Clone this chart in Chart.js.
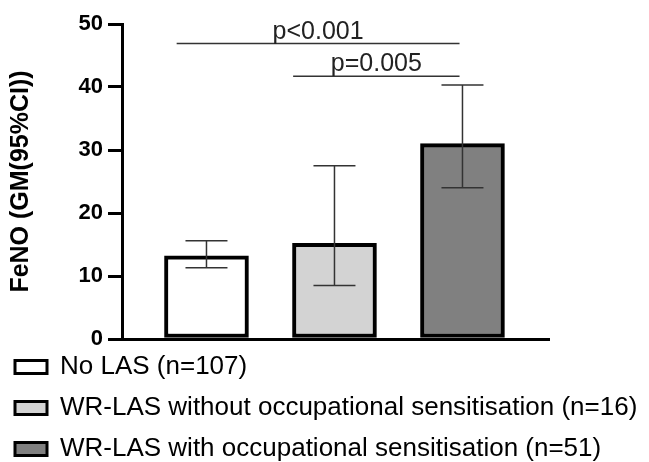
<!DOCTYPE html>
<html>
<head>
<meta charset="utf-8">
<script src="https://cdn.jsdelivr.net/npm/chart.js@4"></script>
<style>
  html, body { margin: 0; padding: 0; background: #fff; }
  #wrap { width: 649px; height: 462px; position: relative; }
</style>
</head>
<body>
<div id="wrap"><canvas id="c"></canvas></div>
<script>
// ---- data ----
const categories = ['No LAS', 'WR-LAS without occupational sensitisation', 'WR-LAS with occupational sensitisation'];
const legendLabels = ['No LAS (n=107)', 'WR-LAS without occupational sensitisation (n=16)', 'WR-LAS with occupational sensitisation (n=51)'];
const gmValues = [13.2, 15.2, 31.0];
const ciLower = [11.3, 8.5, 24.0];
const ciUpper = [15.6, 27.5, 40.3];
const yTicks = [0, 10, 20, 30, 40, 50];
const sigLabels = ['p<0.001', 'p=0.005'];
const sigFrom = [-0.233, 0.677];
const sigTo = [1.977, 1.977];
const sigY = [46.9, 41.7];

const barColors = ['#ffffff', '#d3d3d3', '#808080'];
const FONT = '"Liberation Sans", Arial, Helvetica, sans-serif';

const errorBarPlugin = {
  id: 'errorBars',
  afterDatasetsDraw(chart) {
    const ctx = chart.ctx;
    const xs = chart.scales.x, ys = chart.scales.y;
    ctx.save();
    ctx.strokeStyle = '#333';
    ctx.lineWidth = 1.5;
    const cap = 21;
    gmValues.forEach((v, i) => {
      const x = xs.getPixelForValue(i);
      const yl = ys.getPixelForValue(ciLower[i]);
      const yu = ys.getPixelForValue(ciUpper[i]);
      ctx.beginPath();
      ctx.moveTo(x, yl); ctx.lineTo(x, yu);
      ctx.moveTo(x - cap, yl); ctx.lineTo(x + cap, yl);
      ctx.moveTo(x - cap, yu); ctx.lineTo(x + cap, yu);
      ctx.stroke();
    });
    ctx.restore();
  }
};

const sigPlugin = {
  id: 'sig',
  afterDraw(chart) {
    const ctx = chart.ctx;
    const xs = chart.scales.x, ys = chart.scales.y;
    ctx.save();
    ctx.strokeStyle = '#333';
    ctx.lineWidth = 1.5;
    ctx.fillStyle = '#222';
    ctx.font = '25px ' + FONT;
    ctx.textAlign = 'center';
    ctx.textBaseline = 'alphabetic';
    sigLabels.forEach((lab, i) => {
      const x1 = xs.getPixelForValue(sigFrom[i]);
      const x2 = xs.getPixelForValue(sigTo[i]);
      const y = ys.getPixelForValue(sigY[i]);
      ctx.beginPath();
      ctx.moveTo(x1, y); ctx.lineTo(x2, y);
      ctx.stroke();
      ctx.fillText(lab, (x1 + x2) / 2, y - 5);
    });
    ctx.restore();
  }
};

new Chart(document.getElementById('c'), {
  type: 'bar',
  data: {
    datasets: [{
      data: gmValues.map((v, i) => ({ x: i, y: v })),
      backgroundColor: barColors,
      borderColor: '#000',
      borderWidth: 4,
      borderSkipped: false,
      barThickness: 84
    }]
  },
  options: {
    responsive: true,
    maintainAspectRatio: false,
    animation: false,
    layout: { padding: { left: 0, right: 0, top: 24, bottom: -10 } },
    scales: {
      x: {
        type: 'linear',
        offset: false,
        min: -0.66,
        max: 2.676,
        afterBuildTicks: s => { s.ticks = categories.map((c, i) => ({ value: i })); },
        grid: { display: false, drawTicks: false },
        border: { display: true, color: '#000', width: 3 },
        ticks: { display: false }
      },
      y: {
        min: 0,
        max: 50,
        afterBuildTicks: s => { s.ticks = yTicks.map(v => ({ value: v })); },
        afterFit: s => { s.width = 122; },
        grid: { display: true, drawOnChartArea: false, drawTicks: true, tickLength: 14, color: '#000', lineWidth: 3 },
        border: { display: true, color: '#000', width: 3 },
        ticks: { color: '#000', padding: 5, font: { family: FONT, size: 22, weight: 'bold' } },
        title: {
          display: true,
          text: 'FeNO (GM(95%CI))',
          color: '#000',
          font: { family: FONT, size: 25, weight: 'bold' },
          padding: { top: 6, bottom: 0 }
        }
      },
      yRight: {
        position: 'right',
        display: true,
        min: 0,
        max: 50,
        afterFit: s => { s.width = 100; },
        grid: { display: false, drawTicks: false },
        border: { display: false },
        ticks: { display: false }
      }
    },
    plugins: {
      tooltip: { enabled: false },
      legend: {
        display: true,
        position: 'bottom',
        align: 'start',
        onClick: null,
        labels: {
          boxWidth: 32,
          boxHeight: 13,
          padding: 15,
          color: '#111',
          font: { family: FONT, size: 26 },
          generateLabels: () => legendLabels.map((t, i) => ({
            text: t,
            fillStyle: barColors[i],
            strokeStyle: '#000',
            lineWidth: 3,
            hidden: false,
            index: i
          }))
        }
      }
    }
  },
  plugins: [errorBarPlugin, sigPlugin]
});
</script>
</body>
</html>
